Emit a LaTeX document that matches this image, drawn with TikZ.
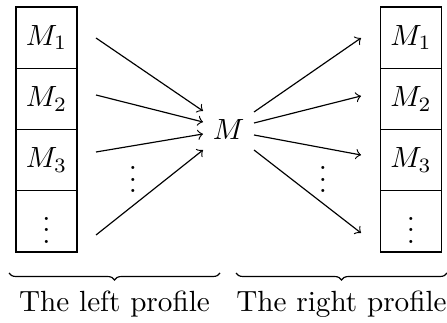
\documentclass[tikz,border=0pt]{standalone}
\usetikzlibrary{decorations.pathreplacing}
\begin{document}
\begin{tikzpicture}[x=0.3425pt,y=-0.3425pt,
  cell/.style={draw,rectangle,minimum width=20.9pt,minimum height=20.95pt,inner sep=0pt},
  arr/.style={->},
  bracedown/.style={decorate,decoration={brace,mirror,amplitude=2.4pt}},
  lbl/.style={anchor=base,inner sep=0pt}]
\useasboundingbox (0,0) rectangle (447,323);
% left profile
\node[cell] (l1) at (46.5,37.6) {$M_1$};
\node[cell] (l2) at (46.5,98.9) {$M_2$};
\node[cell] (l3) at (46.5,160.1) {$M_3$};
\node[cell] (l4) at (46.5,221.4) {$\vdots$};
% right profile
\node[cell] (r1) at (411,37.6) {$M_1$};
\node[cell] (r2) at (411,98.9) {$M_2$};
\node[cell] (r3) at (411,160.1) {$M_3$};
\node[cell] (r4) at (411,221.4) {$\vdots$};
% centre
\node (m) at (228.5,130) {$M$};
% arrow endpoints
\coordinate (ls1) at (96,38);
\coordinate (ls2) at (96,95);
\coordinate (ls3) at (96,152);
\coordinate (ls4) at (96,235);
\coordinate (le1) at (203,111);
\coordinate (le2) at (203,122);
\coordinate (le3) at (203,134);
\coordinate (le4) at (203,150);
\coordinate (rs1) at (254,112);
\coordinate (rs2) at (254,123);
\coordinate (rs3) at (254,135);
\coordinate (rs4) at (254,150);
\coordinate (re1) at (361,38);
\coordinate (re2) at (361,96);
\coordinate (re3) at (361,155);
\coordinate (re4) at (361,233);
\foreach \i in {1,2,3,4} {
  \draw[arr] (ls\i) -- (le\i);
  \draw[arr] (rs\i) -- (re\i);
}
\node (ld) at (133,171) {$\vdots$};
\node (rd) at (323,171) {$\vdots$};
% braces
\coordinate (lb1) at (9,273);
\coordinate (lb2) at (220,273);
\coordinate (rb1) at (236,273);
\coordinate (rb2) at (447,273);
\draw[bracedown] (lb1) -- (lb2);
\draw[bracedown] (rb1) -- (rb2);
\node[lbl] (lt) at (114.5,311) {The left profile};
\node[lbl] (rt) at (341.5,311) {The right profile};
\end{tikzpicture}
\end{document}
